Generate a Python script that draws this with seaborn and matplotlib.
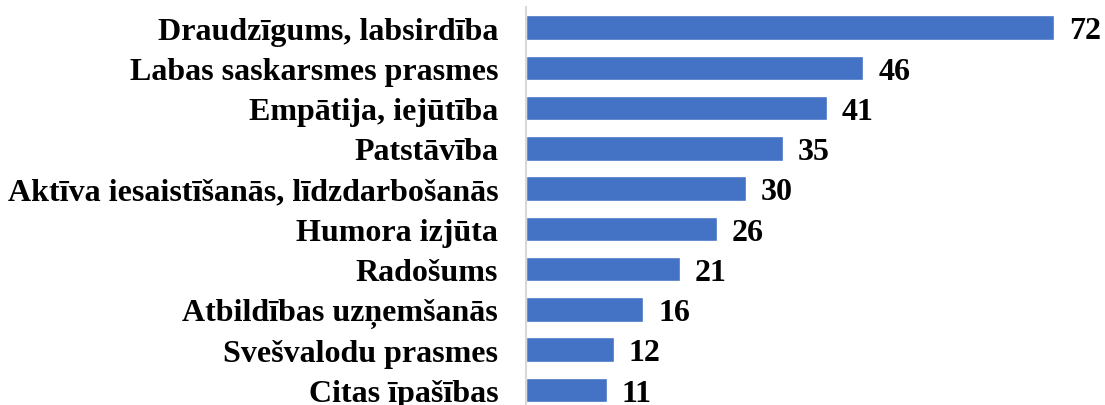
import matplotlib
matplotlib.use("Agg")
import matplotlib.pyplot as plt
import seaborn as sns
import pandas as pd

categories = ["Draudzīgums, labsirdība", "Labas saskarsmes prasmes", "Empātija, iejūtība",
              "Patstāvība", "Aktīva iesaistīšanās, līdzdarbošanās", "Humora izjūta",
              "Radošums", "Atbildības uzņemšanās", "Svešvalodu prasmes", "Citas īpašības"]
values = [72, 46, 41, 35, 30, 26, 21, 16, 12, 11]

df = pd.DataFrame({"cat": categories, "val": values})

sns.set_theme(style="white")
plt.rcParams['font.family'] = ['Liberation Serif', 'DejaVu Serif']

fig = plt.figure(figsize=(11.05, 4.06), dpi=100)
ax = fig.add_axes([526/1105, 1 - 411/406, (1105-526)/1105, (411-8.4)/406])
sns.barplot(data=df, x="val", y="cat", orient="h", color="#4472C4", width=0.61,
            saturation=1, ax=ax)
ax.set_xlim(0, 579/7.33)
ax.set_xlabel("")
ax.set_ylabel("")
ax.set_xticks([])
for s in ["top", "right", "bottom"]:
    ax.spines[s].set_visible(False)
ax.spines["left"].set_color("#D9D9D9")
ax.spines["left"].set_linewidth(1.5)
ax.tick_params(axis="y", length=0, pad=20)
for lbl in ax.get_yticklabels():
    lbl.set_fontsize(23)
    lbl.set_fontweight("bold")
    lbl.set_color("black")
for i, v in enumerate(values):
    ax.text(v + 15/7.33, i + 0.27, str(v), va="baseline", ha="left", fontsize=23,
            fontweight="bold", color="black")
fig.savefig("out.png", dpi=100)
